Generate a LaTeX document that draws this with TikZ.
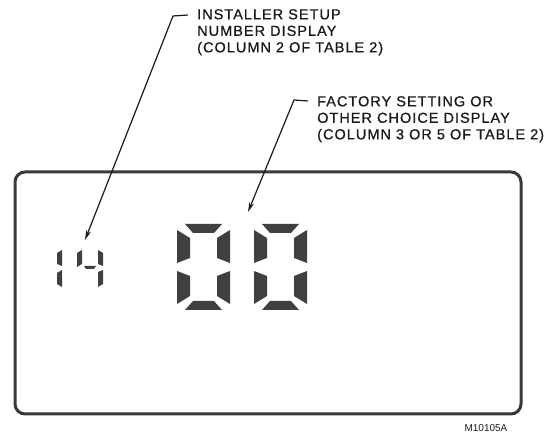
\documentclass[tikz,border=0pt]{standalone}
\usepackage{fontspec}
\setmainfont{Liberation Sans}
\usepackage{xcolor}
\usetikzlibrary{arrows.meta,positioning}
\definecolor{Ink}{HTML}{1A1A1A}
\definecolor{Frame}{HTML}{3A3A3A}
\definecolor{Segment}{HTML}{404040}
\newfontfamily\callfont[LetterSpace=7,FakeBold=0.8]{Liberation Sans}

% one big seven-segment zero, origin at the top left of the digit
\newcommand{\bigzero}[1]{%
  \begin{scope}[shift={#1}]
    \fill[seg] (8,0) -- (45,0) -- (37,9) -- (16,9) -- cycle;
    \fill[seg] (8,86) -- (45,86) -- (37,77) -- (16,77) -- cycle;
    \fill[seg] (0,6) -- (13,14) -- (13,34) -- (0,39) -- cycle;
    \fill[seg] (0,47) -- (13,52) -- (13,72) -- (0,80) -- cycle;
    \fill[seg] (53,6) -- (40,14) -- (40,34) -- (53,39) -- cycle;
    \fill[seg] (53,47) -- (40,52) -- (40,72) -- (53,80) -- cycle;
  \end{scope}}

\begin{document}
\begin{tikzpicture}[
  x=1pt,y=-1pt,
  seg/.style={fill=Segment},
  lead/.style={-{Stealth[length=10pt,width=5pt]},line width=1.2pt,color=Ink},
  callout/.style={anchor=north west,inner sep=0pt,align=left,text=Ink,
                  font=\callfont\fontsize{14.5}{16.5}\selectfont}
]
  \useasboundingbox (0,0) rectangle (550,435);

  % display window
  \draw[line width=3pt,color=Frame,rounded corners=10pt] (15,172) rectangle (521,414);

  % small digits 1 4
  \fill[seg] (57,253) -- (62,250) -- (62,266) -- (57,264) -- cycle;
  \fill[seg] (57,273) -- (62,270) -- (62,287) -- (57,284) -- cycle;
  \fill[seg] (77,253) -- (82,250) -- (82,264) -- (77,267) -- cycle;
  \fill[seg] (84,266) -- (96,266) -- (94,269) -- (86,269) -- cycle;
  \fill[seg] (98,250) -- (103,253) -- (103,266) -- (98,264) -- cycle;
  \fill[seg] (98,272) -- (103,270) -- (103,284) -- (98,287) -- cycle;

  % big digits 0 0
  \bigzero{(177,224)}
  \bigzero{(254,224)}

  \node[callout] (setuplabel) at (197,9) {INSTALLER SETUP\\NUMBER DISPLAY\\(COLUMN 2 OF TABLE 2)};
  \node[callout] (choicelabel) at (317,96) {FACTORY SETTING OR\\OTHER CHOICE DISPLAY\\(COLUMN 3 OR 5 OF TABLE 2)};
  \node[anchor=base,inner sep=0pt,text=Ink,font=\fontsize{10}{12}\selectfont] (figcode) at (486,432) {M10105A};

  \coordinate (setupknee) at (173,16);
  \coordinate (setuptip) at (85,240);
  \coordinate (choiceknee) at (294,100);
  \coordinate (choicetip) at (248,212);

  \draw[lead] ([xshift=-9pt,yshift=-6pt]setuplabel.north west) -- (setupknee) -- (setuptip);
  \draw[lead] ([xshift=-9pt,yshift=-5pt]choicelabel.north west) -- (choiceknee) -- (choicetip);
\end{tikzpicture}
\end{document}
